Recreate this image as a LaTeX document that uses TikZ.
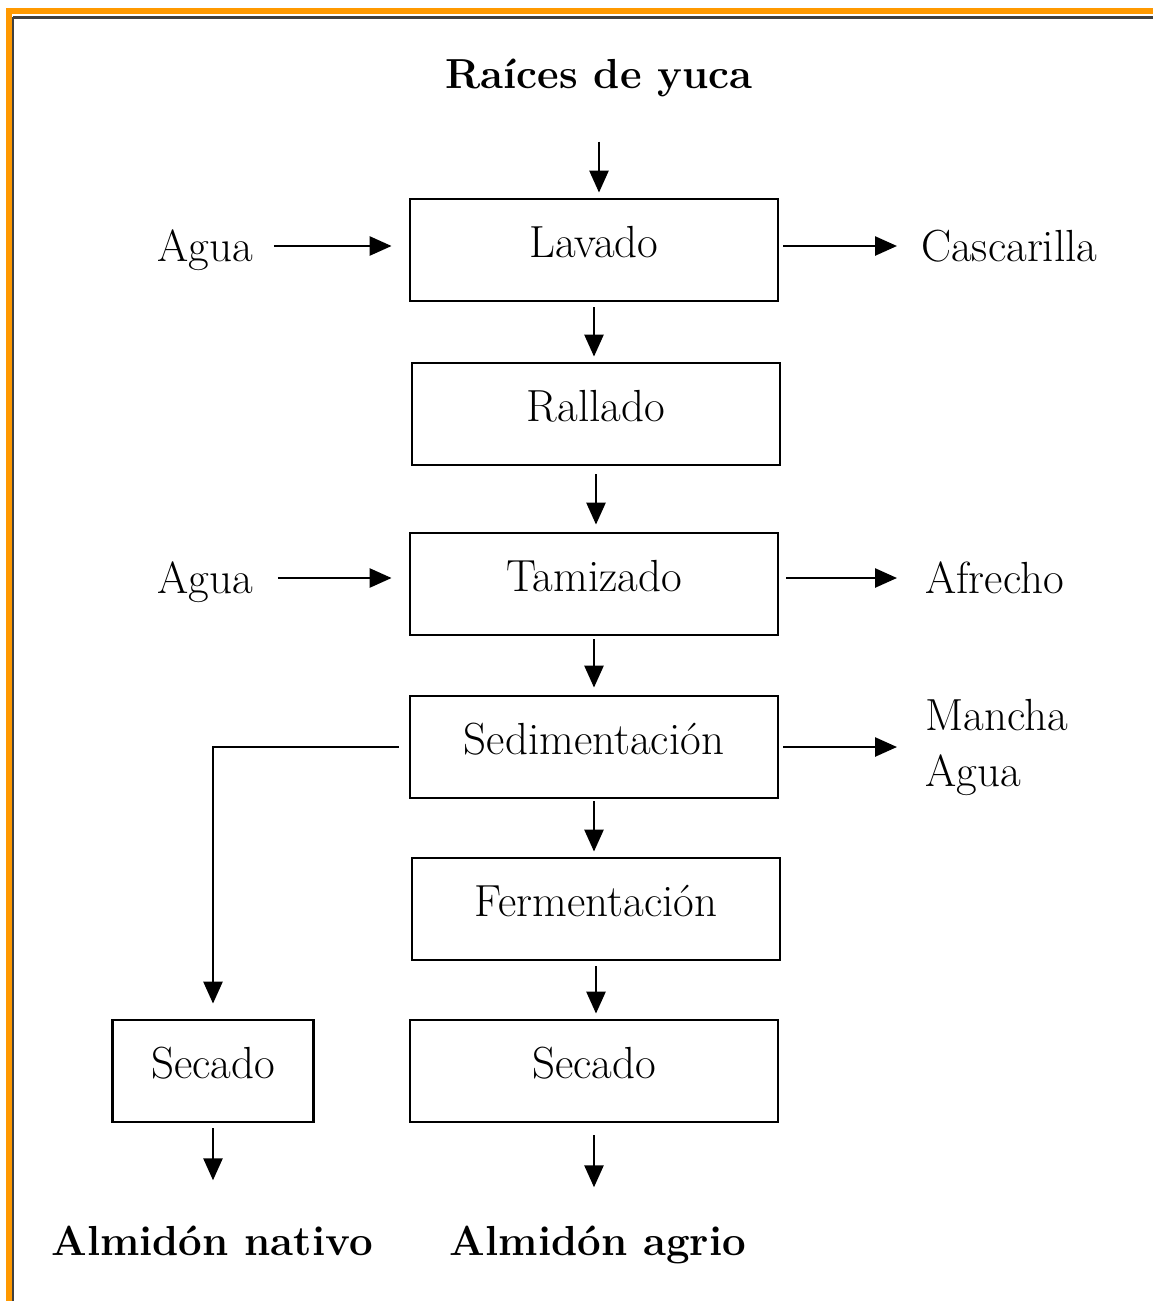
\documentclass[tikz,border=0pt]{standalone}
\usetikzlibrary{arrows.meta}
\definecolor{frameorange}{RGB}{255,153,0}

\begin{document}
\begin{tikzpicture}[x=1pt,y=-1pt,
    stepbox/.style={draw,line width=2.8pt,minimum height=102pt,inner sep=0pt,
      text height=31pt,text depth=16pt,font=\fontsize{45}{56}\selectfont},
    flowlabel/.style={inner sep=0pt,text height=31pt,text depth=0pt,
      font=\fontsize{45}{56}\selectfont},
    endlabel/.style={flowlabel,font=\fontsize{42}{50}\selectfont\bfseries},
    flow/.style={line width=2.6pt,-{Triangle[length=22pt,width=19pt]}}]
      \useasboundingbox (0,0) rectangle (1153,1301);
      % frame
      \fill[frameorange] (6,8) rectangle (1153,14);
      \fill[frameorange] (6,8) rectangle (12,1301);
      \draw[black!75,line width=3pt] (13,17) -- (1153,17);
      \draw[black!75,line width=2pt] (13,17) -- (13,1301);

      \def \Boxes {
        lavado/594/250/368/Lavado,
        rallado/596/414/368/Rallado,
        tamizado/594/584/368/Tamizado,
        sedim/594/747/368/Sedimentación,
        ferment/596/909/368/Fermentación,
        secadoA/594/1071/368/Secado,
        secadoN/213/1071/201/Secado}
      \def \LeftLabels {
        agua1/205/246/Agua,
        agua2/205/578/Agua}
      \def \RightLabels {
        cascarilla/921/246/Cascarilla,
        afrecho/925/578/Afrecho}
      \def \EndLabels {
        raices/599/73/Raíces de yuca,
        nativo/212/1240/Almidón nativo,
        agrio/598/1240/Almidón agrio}
      \def \Down {
        raices/lavado/53/5,
        lavado/rallado/5/5,
        rallado/tamizado/8/7,
        tamizado/sedim/3/7,
        sedim/ferment/2/5,
        ferment/secadoA/5/5,
        secadoA/agrio/12/37,
        secadoN/nativo/5/44}
      \def \Into {
        agua1/lavado/21/17,
        agua2/tamizado/25/17}
      \def \OutOf {
        lavado/cascarilla/4/24,
        tamizado/afrecho/7/28,
        sedim/mancha/4/28}

      \foreach \id / \x / \y / \w / \txt in \Boxes {
        \node[stepbox,minimum width=\w pt] (\id) at (\x, \y) {\txt};
      }
      \foreach \id / \x / \y / \txt in \LeftLabels {
        \node[flowlabel] (\id) at (\x, \y) {\txt};
      }
      \foreach \id / \x / \y / \txt in \RightLabels {
        \node[flowlabel,anchor=west] (\id) at (\x, \y) {\txt};
      }
      \foreach \id / \x / \y / \txt in \EndLabels {
        \node[endlabel] (\id) at (\x, \y) {\txt};
      }
      \node[inner sep=0pt,anchor=west,align=left,font=\fontsize{45}{56}\selectfont]
        (mancha) at (925, 747) {Mancha\\Agua};

      \foreach \a / \b / \s / \e in \Down {
        \draw[flow,shorten <=\s pt,shorten >=\e pt] (\a.south) -- (\a.south |- \b.north);
      }
      \foreach \a / \b / \s / \e in \Into {
        \draw[flow,shorten <=\s pt,shorten >=\e pt] (\a.east) -- (\a.east -| \b.west);
      }
      \foreach \a / \b / \s / \e in \OutOf {
        \draw[flow,shorten <=\s pt,shorten >=\e pt] (\b.west -| \a.east) -- (\b.west);
      }
      \draw[flow,shorten <=10pt,shorten >=15pt] (sedim.west) -| (secadoN.north);
    \end{tikzpicture}
\end{document}
